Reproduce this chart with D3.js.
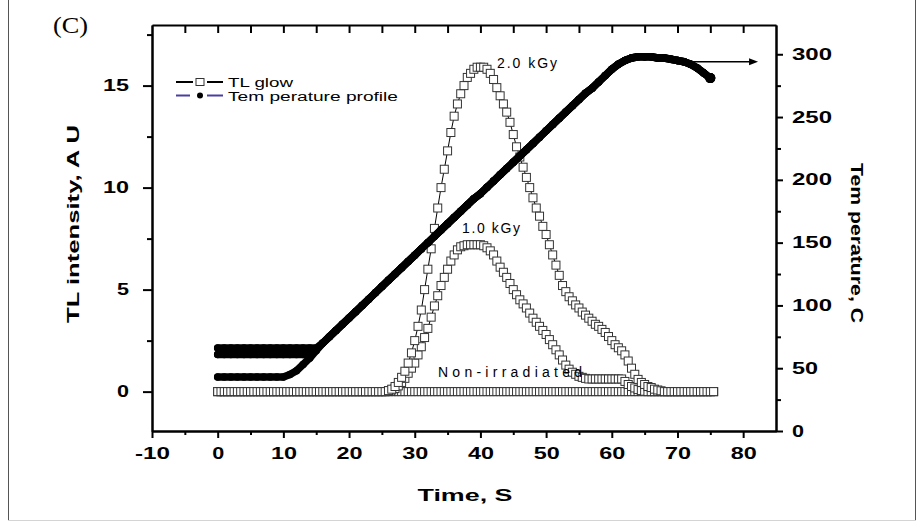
<!DOCTYPE html>
<html><head><meta charset="utf-8">
<script src="https://cdn.jsdelivr.net/npm/d3@7"></script>
<style>body{margin:0;background:#fff}svg{display:block}</style>
</head><body>
<svg id="c" width="920" height="522"></svg>
<script>
// ---------------- DATA ----------------
const tlTime = [0,0.5,1,1.5,2,2.5,3,3.5,4,4.5,5,5.5,6,6.5,7,7.5,8,8.5,9,9.5,
10,10.5,11,11.5,12,12.5,13,13.5,14,14.5,15,15.5,16,16.5,17,17.5,18,18.5,19,19.5,
20,20.5,21,21.5,22,22.5,23,23.5,24,24.5,25,25.5,26,26.5,27,27.5,28,28.5,29,29.5,
30,30.5,31,31.5,32,32.5,33,33.5,34,34.5,35,35.5,36,36.5,37,37.5,38,38.5,39,39.5,
40,40.5,41,41.5,42,42.5,43,43.5,44,44.5,45,45.5,46,46.5,47,47.5,48,48.5,49,49.5,
50,50.5,51,51.5,52,52.5,53,53.5,54,54.5,55,55.5,56,56.5,57,57.5,58,58.5,59,59.5,
60,60.5,61,61.5,62,62.5,63,63.5,64,64.5,65,65.5,66,66.5,67,67.5,68,68.5,69,69.5,
70,70.5,71,71.5,72,72.5,73,73.5,74,74.5,75,75.5];

const tlNonIrradiated = [0,0,0,0,0,0,0,0,0,0,0,0,0,0,0,0,0,0,0,0,
0,0,0,0,0,0,0,0,0,0,0,0,0,0,0,0,0,0,0,0,
0,0,0,0,0,0,0,0,0,0,0,0,0,0,0,0,0,0,0,0,
0,0,0,0,0,0,0,0,0,0,0,0,0,0,0,0,0,0,0,0,
0,0,0,0,0,0,0,0,0,0,0,0,0,0,0,0,0,0,0,0,
0,0,0,0,0,0,0,0,0,0,0,0,0,0,0,0,0,0,0,0,
0,0,0,0,0,0,0,0,0,0,0,0,0,0,0,0,0,0,0,0,
0,0,0,0,0,0,0,0,0,0,0,0];

const tl1kGy = [0,0,0,0,0,0,0,0,0,0,0,0,0,0,0,0,0,0,0,0,
0,0,0,0,0,0,0,0,0,0,0,0,0,0,0,0,0,0,0,0,
0,0,0,0,0,0,0,0,0,0,0,0,
0.03,0.08,0.15,0.28,0.45,0.65,0.9,1.15,1.4,1.8,
2.2,2.65,3.1,3.65,4.2,4.7,5.2,5.6,6.0,6.4,
6.7,6.95,7.1,7.15,7.2,7.2,7.2,7.2,7.2,7.15,
7.05,6.9,6.7,6.4,6.1,5.85,5.6,5.3,5.0,4.75,
4.5,4.3,4.1,3.85,3.6,3.4,3.2,3.0,2.8,2.55,
2.3,2.05,1.8,1.55,1.3,1.1,0.95,0.85,0.75,0.7,
0.65,0.62,0.62,0.62,0.62,0.62,0.62,0.62,0.62,0.62,
0.62,0.62,0.5,0.35,0.25,0.18,0.1,0.05,0.02,0,
0,0,0,0,0,
0,0,0,0,0,0,0,0,0,0,0,0,0,0,0];

const tl2kGy = [0,0,0,0,0,0,0,0,0,0,0,0,0,0,0,0,0,0,0,0,
0,0,0,0,0,0,0,0,0,0,0,0,0,0,0,0,0,0,0,0,
0,0,0,0,0,0,0,0,0,0,0,0,
0.05,0.12,0.25,0.45,0.7,1.0,1.4,1.9,2.5,3.2,
4.0,5.0,6.0,7.0,8.0,9.0,10.0,10.9,11.8,12.7,
13.5,14.1,14.6,15.0,15.4,15.6,15.8,15.9,15.9,15.9,
15.8,15.6,15.3,14.9,14.5,14.1,13.7,13.2,12.6,12.0,
11.5,11.0,10.5,10.0,9.5,9.0,8.6,8.1,7.7,7.2,
6.7,6.2,5.7,5.2,4.9,4.65,4.45,4.25,4.1,3.9,
3.75,3.6,3.45,3.3,3.2,3.05,2.9,2.7,2.5,2.3,
2.15,2.0,1.8,1.5,1.15,0.85,0.6,0.45,0.35,0.25,
0.2,0.12,0.08,0.04,0,
0,0,0,0,0,0,0,0,0,0,0,0,0,0,0];

const tempTime = [0,1,2,3,4,5,6,7,8,9,10,11,12,13,14,15,16,17,18,19,
20,21,22,23,24,25,26,27,28,29,30,31,32,33,34,35,36,37,38,39,
40,41,42,43,44,45,46,47,48,49,50,51,52,53,54,55,56,57,58,59,
60,61,62,63,64,65,66,67,68,69,70,71,72,73,74,75];

const tempLow = [43,43,43,43,43,43,43,43,43,43,43,45,48,53,58,64,
70,75,80,85,90,95,100,105,110,115,120,125,130,135,140,145,150,155,160,165,
170,175,180,185,189,194,199,204,209,214,219,224,229,234,239,244,249,254,259,264,
269,273,278,283,288,292,295,297,298,298,298,297,297,296,295,294,292,289,285,281];

const tempMid = [61,61,61,61,61,61,61,61,61,61,61,61,61,61,61,65,
70,75,80,85,90,95,100,105,110,115,120,125,130,135,140,145,150,155,160,165,
170,175,180,185,189,194,199,204,209,214,219,224,229,234,239,244,249,254,259,264,
269,273,278,283,288,292,295,297,298,298,298,297,297,296,295,294,292,289,285,281];

const tempHigh = [66,66,66,66,66,66,66,66,66,66,66,66,66,66,66,66,
70,75,80,85,90,95,100,105,110,115,120,125,130,135,140,145,150,155,160,165,
170,175,180,185,189,194,199,204,209,214,219,224,229,234,239,244,249,254,259,264,
269,273,278,283,288,292,295,297,298,298,298,297,297,296,295,294,292,289,285,281];

const xTicks = [-10,0,10,20,30,40,50,60,70,80];
const xMinorTicks = [-5,5,15,25,35,45,55,65,75];
const xTopTicks = [-5,0,5,10,15,20,25,30,35,40,45,50,55,60,65,70,75,80];
const yLeftTicks = [0,5,10,15];
const yLeftMinor = [2.5,7.5,12.5,17.5];
const yRightTicks = [0,50,100,150,200,250,300];
const yRightMinor = [25,75,125,175,225,275];

const doseLabels = ["2.0 kGy","1.0 kGy","Non-irradiated"];
const legendLabels = ["TL glow","Tem perature profile"];

// ---------------- CHART ----------------
const FONT = '"Liberation Sans", Arial, Helvetica, sans-serif';
const svg = d3.select('#c');

// frame
svg.append('line').attr('x1',8.5).attr('x2',8.5).attr('y1',0).attr('y2',520).attr('stroke','#555').attr('stroke-width',1);
svg.append('line').attr('x1',915.5).attr('x2',915.5).attr('y1',0).attr('y2',520).attr('stroke','#555').attr('stroke-width',1);
svg.append('line').attr('x1',8).attr('x2',916).attr('y1',520.5).attr('y2',520.5).attr('stroke','#d4d4d4').attr('stroke-width',1);

const x = d3.scaleLinear().domain([-10,85]).range([152,776]);
const yL = d3.scaleLinear().domain([-1.93,17.97]).range([431,25]);
const yR = d3.scaleLinear().domain([0,323.3]).range([431,25]);

const labelLen = s => [...s].reduce((a,c)=>a+(c==='-'?9:14),0) - 2;

function styleAxis(g, withLabels){
  g.select('.domain').attr('stroke','#000').attr('stroke-width',2);
  g.selectAll('.tick line').attr('stroke','#000').attr('stroke-width',2);
  if(withLabels){
    g.selectAll('.tick text')
      .attr('font-family',FONT).attr('font-weight','bold').attr('font-size',16).attr('fill','#000')
      .attr('textLength', d=>labelLen(String(d))).attr('lengthAdjust','spacingAndGlyphs');
  }
}

// top border with inward ticks
const gTop = svg.append('g').attr('transform','translate(0,25)')
  .call(d3.axisTop(x).tickValues(xTopTicks).tickSize(-8).tickSizeOuter(0).tickFormat(''));
styleAxis(gTop,false);

// bottom axis
const gBot = svg.append('g').attr('transform','translate(0,431)')
  .call(d3.axisBottom(x).tickValues(xTicks).tickSize(7).tickPadding(10).tickSizeOuter(0).tickFormat(d=>String(d)));
styleAxis(gBot,true);
const gBotMin = svg.append('g').attr('transform','translate(0,431)')
  .call(d3.axisBottom(x).tickValues(xMinorTicks).tickSize(4).tickSizeOuter(0).tickFormat(''));
styleAxis(gBotMin,false);

// left axis
const gLeft = svg.append('g').attr('transform','translate(152,0)')
  .call(d3.axisLeft(yL).tickValues(yLeftTicks).tickSize(9).tickPadding(14).tickSizeOuter(0).tickFormat(d=>String(d)));
styleAxis(gLeft,true);
const gLeftMin = svg.append('g').attr('transform','translate(152,0)')
  .call(d3.axisLeft(yL).tickValues(yLeftMinor).tickSize(5).tickSizeOuter(0).tickFormat(''));
styleAxis(gLeftMin,false);

// right axis
const gRight = svg.append('g').attr('transform','translate(776,0)')
  .call(d3.axisRight(yR).tickValues(yRightTicks).tickSize(7).tickPadding(9).tickSizeOuter(0).tickFormat(d=>String(d)));
styleAxis(gRight,true);
const gRightMin = svg.append('g').attr('transform','translate(776,0)')
  .call(d3.axisRight(yR).tickValues(yRightMinor).tickSize(5).tickSizeOuter(0).tickFormat(''));
styleAxis(gRightMin,false);

// axis titles
svg.append('text').attr('transform','translate(73,224) rotate(-90)')
  .attr('text-anchor','middle').attr('dy','0.35em')
  .attr('font-family',FONT).attr('font-weight','bold').attr('font-size',16)
  .attr('textLength',198).attr('lengthAdjust','spacingAndGlyphs')
  .text('TL intensity, A U');
svg.append('text').attr('transform','translate(857,243) rotate(90)')
  .attr('text-anchor','middle').attr('dy','0.35em')
  .attr('font-family',FONT).attr('font-weight','bold').attr('font-size',16)
  .attr('textLength',160).attr('lengthAdjust','spacingAndGlyphs')
  .text('Tem perature, C');
svg.append('text').attr('x',465).attr('y',501)
  .attr('text-anchor','middle')
  .attr('font-family',FONT).attr('font-weight','bold').attr('font-size',16)
  .attr('textLength',95).attr('lengthAdjust','spacingAndGlyphs')
  .text('Time, S');

// panel title
svg.append('text').attr('x',53).attr('y',33)
  .attr('font-family','"Liberation Serif", "Times New Roman", serif').attr('font-size',23)
  .attr('textLength',35).attr('lengthAdjust','spacingAndGlyphs')
  .text('(C)');

// TL curves
const tlSeries = [tlNonIrradiated, tl1kGy, tl2kGy];
const plot = svg.append('g');
const tlLine = d3.line().x(d=>x(d[0])).y(d=>yL(d[1]));
tlSeries.forEach(vals=>{
  const pts = tlTime.map((t,i)=>[t, vals[i]]);
  plot.append('path').attr('d',tlLine(pts)).attr('fill','none').attr('stroke','#000').attr('stroke-width',1);
  plot.append('g').selectAll('rect').data(pts).join('rect')
    .attr('x',d=>x(d[0])-4).attr('y',d=>yL(d[1])-4).attr('width',8).attr('height',8)
    .attr('fill','#fff').attr('stroke','#333').attr('stroke-width',1);
});

// temperature profiles
const tLine = d3.line().x(d=>x(d[0])).y(d=>yR(d[1]));
[tempLow, tempMid, tempHigh].forEach(vals=>{
  const pts = tempTime.map((t,i)=>[t, vals[i]]);
  plot.append('path').attr('d',tLine(pts)).attr('fill','none').attr('stroke','#000')
    .attr('stroke-width',7.5).attr('stroke-linejoin','round').attr('stroke-linecap','round');
  plot.append('g').selectAll('circle').data(pts).join('circle')
    .attr('cx',d=>x(d[0])).attr('cy',d=>yR(d[1])).attr('r',(d,i)=> i===pts.length-1?5:3.75).attr('fill','#000');
});

// arrow pointing to right axis
const ay = yR(294);
svg.append('line').attr('x1',x(71.7)).attr('x2',x(81.2)).attr('y1',ay).attr('y2',ay).attr('stroke','#000').attr('stroke-width',1.5);
svg.append('path').attr('d',`M${x(81.2)-2},${ay-3.5} L${x(81.2)+7},${ay} L${x(81.2)-2},${ay+3.5} Z`).attr('fill','#000');

// annotations
const ann = [[doseLabels[0],497,68,60],[doseLabels[1],462,233,58],[doseLabels[2],438,377,144]];
ann.forEach(a=>{
  svg.append('text').attr('x',a[1]).attr('y',a[2]).attr('font-family',FONT).attr('font-size',14)
    .attr('fill','#000').attr('textLength',a[3]).attr('lengthAdjust','spacing').text(a[0]);
});

// legend
const lg = svg.append('g');
lg.append('line').attr('x1',176).attr('x2',193).attr('y1',82).attr('y2',82).attr('stroke','#000').attr('stroke-width',2);
lg.append('line').attr('x1',207).attr('x2',223).attr('y1',82).attr('y2',82).attr('stroke','#000').attr('stroke-width',2);
lg.append('rect').attr('x',196).attr('y',78.5).attr('width',8).attr('height',7).attr('fill','#fff').attr('stroke','#333').attr('stroke-width',1);
lg.append('text').attr('x',228).attr('y',87).attr('font-family',FONT).attr('font-size',12.5)
  .attr('textLength',65).attr('lengthAdjust','spacingAndGlyphs').text(legendLabels[0]);
lg.append('line').attr('x1',176).attr('x2',190).attr('y1',95.5).attr('y2',95.5).attr('stroke','#4a3f9f').attr('stroke-width',2);
lg.append('line').attr('x1',207).attr('x2',223).attr('y1',95.5).attr('y2',95.5).attr('stroke','#4a3f9f').attr('stroke-width',2);
lg.append('circle').attr('cx',200).attr('cy',95.5).attr('r',3).attr('fill','#000');
lg.append('text').attr('x',228).attr('y',101).attr('font-family',FONT).attr('font-size',12.5)
  .attr('textLength',170).attr('lengthAdjust','spacingAndGlyphs').text(legendLabels[1]);
</script>
</body></html>
